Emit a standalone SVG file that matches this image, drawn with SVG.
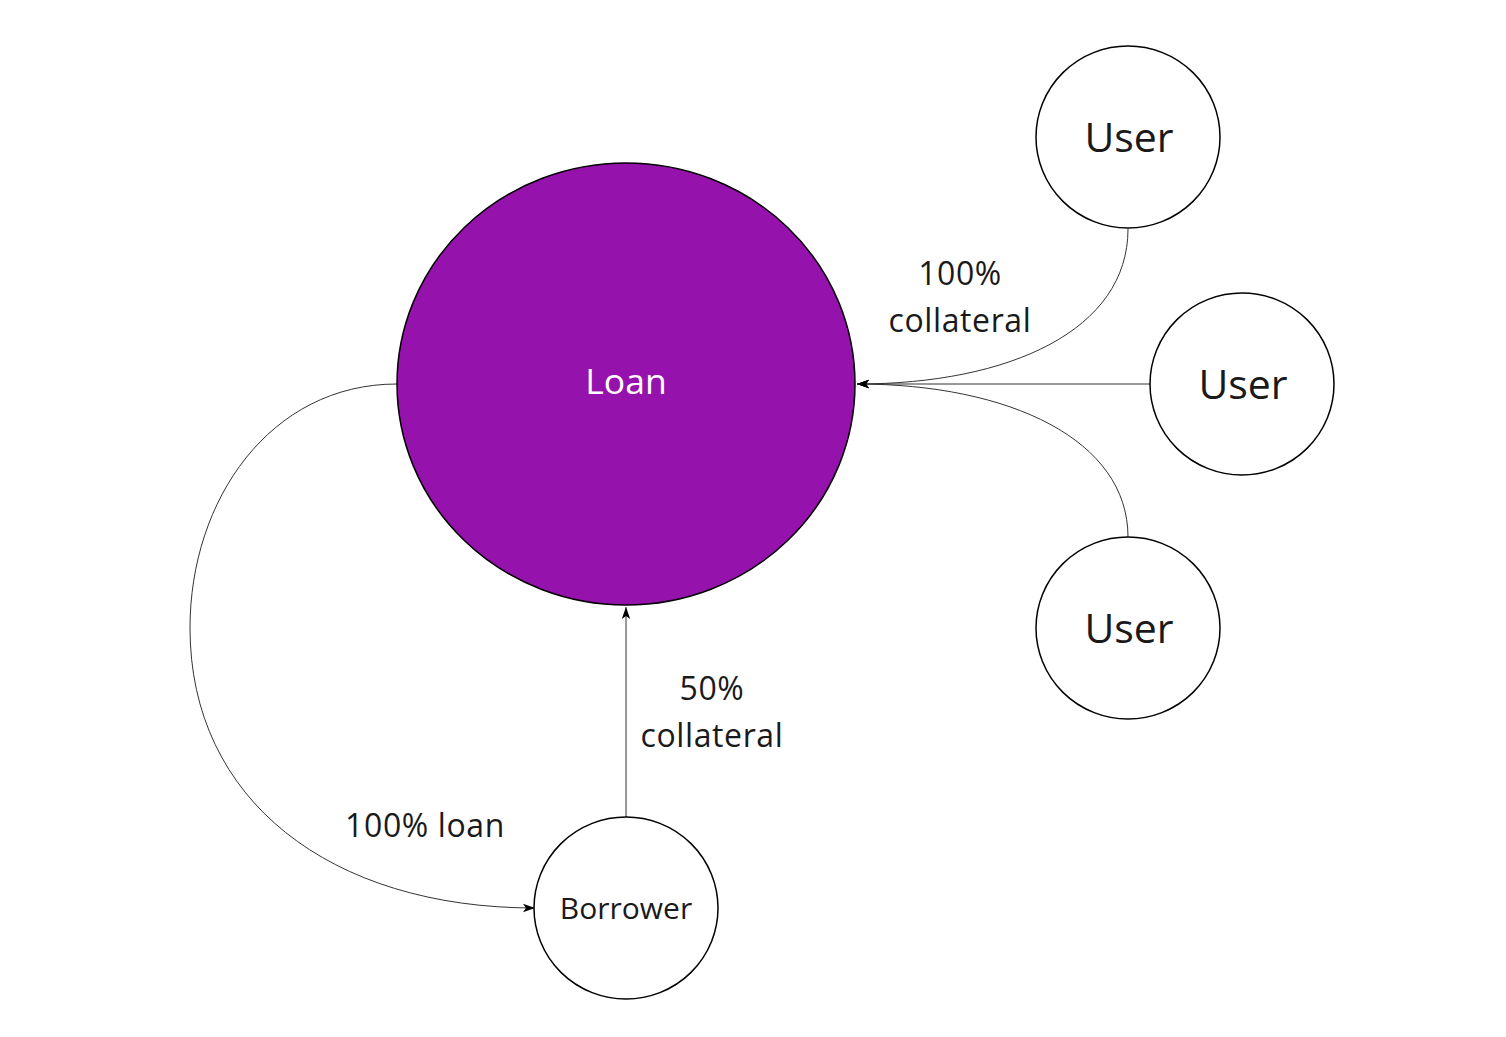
<svg xmlns="http://www.w3.org/2000/svg" width="1506" height="1037" viewBox="0 0 1506 1037">
<defs>
<style>
.node{fill:#ffffff;stroke:#000000;stroke-width:1.5}
.loan{fill:#9612ad;stroke:#000000;stroke-width:1.5}
.edge{fill:none;stroke:#333333;stroke-width:1}
text{font-family:"Open Sans","Noto Sans",sans-serif;fill:#1a1a1a;text-anchor:middle}
.lbl{font-size:32px;letter-spacing:0.6px}
.user{font-size:41px}
</style>
<marker id="arr" viewBox="0 0 10 10" refX="10" refY="5" markerWidth="12" markerHeight="12" markerUnits="userSpaceOnUse" orient="auto">
<path d="M0,1.5 L10,5 L0,8.5 L2.5,5 Z" fill="#000000"/>
</marker>
</defs>
<rect width="1506" height="1037" fill="#ffffff"/>
<g id="connectors">
<path class="edge" d="M1128,229 C1128,330 1010,384 857,384" marker-end="url(#arr)"/>
<path class="edge" d="M1150,384 L857,384" marker-end="url(#arr)"/>
<path class="edge" d="M1128,537 C1128,440 1010,384 857,384" marker-end="url(#arr)"/>
<path class="edge" d="M626,817 L626,607" marker-end="url(#arr)"/>
<path class="edge" d="M397,384 C270,384 190,500 190,628 C190,800 330,908 535,908" marker-end="url(#arr)"/>
</g>
<g id="loan">
<ellipse class="loan" cx="626" cy="384" rx="229" ry="221"/>
<text x="626" y="394" style="font-size:35.5px;fill:#ffffff">Loan</text>
</g>
<g id="user1">
<ellipse class="node" cx="1128" cy="137" rx="92" ry="91"/>
<text class="user" x="1129" y="152">User</text>
</g>
<g id="user2">
<ellipse class="node" cx="1242" cy="384" rx="92" ry="91"/>
<text class="user" x="1243" y="399">User</text>
</g>
<g id="user3">
<ellipse class="node" cx="1128" cy="628" rx="92" ry="91"/>
<text class="user" x="1129" y="643">User</text>
</g>
<g id="borrower">
<ellipse class="node" cx="626" cy="908" rx="92" ry="91"/>
<text x="626" y="919" style="font-size:30px">Borrower</text>
</g>
<g id="labels">
<text class="lbl" x="960" y="285">100%</text>
<text class="lbl" x="960" y="332">collateral</text>
<text class="lbl" x="712" y="700">50%</text>
<text class="lbl" x="712" y="747">collateral</text>
<text class="lbl" x="425" y="837">100% loan</text>
</g>
</svg>
